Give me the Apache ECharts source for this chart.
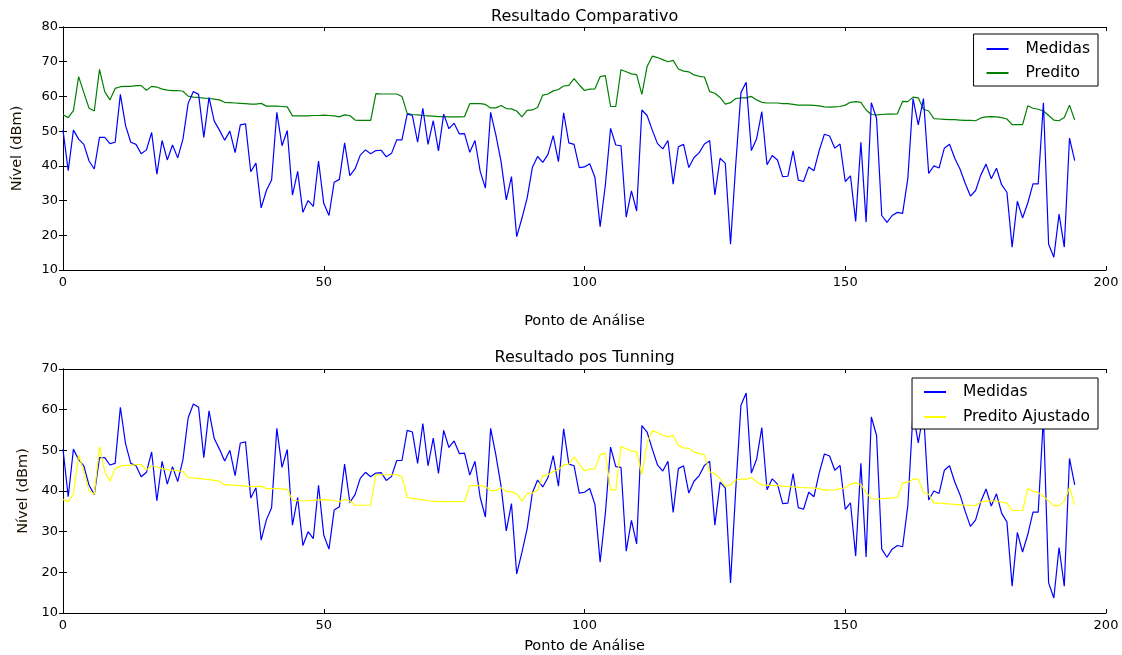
<!DOCTYPE html>
<html>
<head>
<meta charset="utf-8">
<script src="https://cdn.jsdelivr.net/npm/echarts@6/dist/echarts.min.js"></script>
<style>
html,body{margin:0;padding:0;background:#fff;}
#chart{width:1122px;height:655px;}
</style>
</head>
<body>
<div id="chart"></div>
<script>
const xTicks = [0, 50, 100, 150, 200];
const yTicksTop = [10, 20, 30, 40, 50, 60, 70, 80];
const yTicksBottom = [10, 20, 30, 40, 50, 60, 70];

const medidas = [50.3,38.6,50.3,47.7,46.2,41.4,39.1,48.2,48.2,46.4,46.8,60.6,51.6,46.8,46.2,43.5,44.6,49.6,37.6,47.3,41.7,46.0,42.3,47.7,58.0,61.4,60.6,48.2,59.7,52.9,50.3,47.4,50.0,43.8,51.8,52.1,38.3,40.8,27.9,32.9,35.9,55.4,45.8,50.2,31.6,38.4,26.6,30.0,28.3,41.4,29.2,25.7,35.3,36.1,46.6,37.2,39.1,43.1,44.6,43.5,44.4,44.5,42.6,43.6,47.5,47.5,54.9,54.5,46.8,56.6,46.2,53.0,44.3,54.9,50.7,52.3,49.2,49.3,43.9,47.3,38.4,33.6,55.4,48.9,41.2,30.2,36.9,19.6,24.9,30.7,39.5,42.7,41.0,43.3,48.7,41.2,55.3,46.6,46.2,39.5,39.7,40.6,36.7,22.5,34.5,50.8,46.0,45.8,25.2,32.8,27.0,56.1,54.5,50.3,46.4,44.9,47.3,34.7,45.5,46.2,39.5,42.4,43.8,46.3,47.3,31.6,42.2,40.7,17.4,40.3,61.1,64.1,44.4,47.8,55.6,40.3,43.0,41.7,36.9,37.0,44.3,35.9,35.5,39.7,38.6,44.4,49.1,48.6,45.1,46.3,35.5,37.1,24.0,46.8,23.8,58.2,53.7,25.7,23.7,25.7,26.6,26.3,36.4,59.4,51.8,59.4,37.8,40.0,39.4,45.1,46.2,42.2,39.1,35.0,31.3,32.9,37.4,40.5,36.3,39.3,34.5,32.4,16.6,29.8,25.0,29.3,34.8,34.8,58.2,17.4,13.7,26.1,16.6,48.0,41.5];

const predito = [54.7,53.9,55.9,65.7,61.1,56.6,55.8,67.8,61.4,59.0,62.3,62.8,62.9,62.9,63.1,63.1,61.8,62.9,62.7,62.1,61.8,61.7,61.7,61.5,60.1,59.8,59.7,59.5,59.4,59.2,59.0,58.3,58.2,58.1,58.0,57.9,57.8,57.8,58.0,57.2,57.2,57.2,57.1,57.0,54.4,54.4,54.4,54.4,54.5,54.5,54.6,54.5,54.4,54.1,54.7,54.5,53.2,53.1,53.1,53.1,60.8,60.7,60.7,60.7,60.7,60.0,55.1,54.8,54.7,54.5,54.4,54.3,54.2,54.2,54.1,54.1,54.1,54.2,57.9,57.9,57.9,57.7,56.7,56.7,57.4,56.5,56.4,55.8,54.1,56.0,56.1,56.8,60.4,60.7,61.6,62.0,63.0,63.2,65.1,63.3,61.7,62.1,62.2,65.7,66.0,57.1,57.1,67.7,67.1,66.5,66.3,60.6,68.6,71.6,71.2,70.6,70.0,70.4,67.9,67.3,67.1,66.2,65.8,65.6,61.4,60.9,59.7,57.8,58.2,59.4,59.6,59.6,60.0,59.0,58.3,58.1,58.1,58.1,57.9,57.9,57.7,57.5,57.5,57.5,57.4,57.3,57.0,56.9,57.0,57.1,57.5,58.3,58.5,58.3,56.1,54.8,54.7,54.8,54.9,54.9,55.0,58.6,58.5,59.8,59.6,56.3,55.8,53.6,53.5,53.4,53.3,53.3,53.2,53.1,53.1,53.0,53.8,54.1,54.2,54.1,53.9,53.5,51.9,51.9,51.9,57.3,56.6,56.3,55.8,54.5,53.2,53.0,53.9,57.5,53.2];

const preditoAjustado = [37.9,37.4,39.2,48.9,44.8,40.1,39.2,50.9,44.8,42.4,45.5,46.1,46.3,46.3,46.5,46.5,45.2,46.2,45.9,45.5,45.2,45.1,45.0,44.8,43.3,43.2,43.1,42.9,42.8,42.6,42.4,41.5,41.5,41.4,41.3,41.2,41.1,41.1,41.2,40.6,40.6,40.6,40.5,40.4,37.7,37.6,37.6,37.6,37.7,37.8,37.9,37.8,37.6,37.4,37.9,37.6,36.5,36.5,36.5,36.5,44.1,44.0,44.0,44.0,44.0,43.5,38.4,38.2,38.0,37.8,37.6,37.5,37.4,37.4,37.4,37.4,37.4,37.4,41.3,41.3,41.3,41.1,40.1,40.1,40.8,39.9,39.8,39.3,37.5,39.4,39.5,40.2,43.8,44.0,44.8,45.3,46.4,46.6,48.4,46.6,45.0,45.4,45.5,48.9,49.3,40.3,40.3,50.9,50.4,49.8,49.6,44.0,51.8,54.8,54.4,53.7,53.3,53.7,51.2,50.6,50.5,49.6,49.2,48.9,44.7,44.3,43.0,41.2,41.5,42.7,42.9,42.9,43.3,42.2,41.5,41.4,41.4,41.4,41.2,41.1,41.0,40.9,40.8,40.8,40.7,40.6,40.2,40.2,40.3,40.5,40.8,41.7,42.0,41.6,39.6,38.1,38.0,38.1,38.2,38.3,38.4,42.0,42.1,42.9,42.9,39.7,39.2,37.0,37.0,36.9,36.8,36.7,36.6,36.5,36.5,36.4,37.3,37.5,37.6,37.5,37.3,37.0,35.2,35.2,35.2,40.6,39.9,39.6,38.7,37.5,36.4,36.4,37.5,40.9,36.6];

const titles = ['Resultado Comparativo', 'Resultado pos Tunning'];
const xName = 'Ponto de Análise';
const yName = 'Nível (dBm)';

const FONT = 'DejaVu Sans';
const pairs = arr => arr.map((v, i) => [i, v]);

const chart = echarts.init(document.getElementById('chart'), null, {renderer: 'canvas'});

function xAx(gridIndex, pos, showLabel, nameGap) {
  const a = {
    type: 'value', gridIndex, position: pos,
    min: xTicks[0], max: xTicks[xTicks.length - 1], interval: xTicks[1] - xTicks[0],
    axisLine: {show: true, lineStyle: {color: '#000', width: 1}},
    axisTick: {show: true, inside: true, length: 4, lineStyle: {color: '#000'}},
    axisLabel: {show: showLabel, color: '#000', fontFamily: FONT, fontSize: 13, margin: 6},
    splitLine: {show: false}
  };
  if (showLabel) {
    a.name = xName; a.nameLocation = 'middle'; a.nameGap = nameGap;
    a.nameTextStyle = {color: '#000', fontFamily: FONT, fontSize: 14.5};
  }
  return a;
}
function yAx(gridIndex, pos, showLabel, ticks, nameGap) {
  const a = {
    type: 'value', gridIndex, position: pos,
    min: ticks[0], max: ticks[ticks.length - 1], interval: ticks[1] - ticks[0],
    axisLine: {show: true, lineStyle: {color: '#000', width: 1}},
    axisTick: {show: true, inside: true, length: 4, lineStyle: {color: '#000'}},
    axisLabel: {show: showLabel, color: '#000', fontFamily: FONT, fontSize: 13, margin: 5},
    splitLine: {show: false}
  };
  if (showLabel) {
    a.name = yName; a.nameLocation = 'middle'; a.nameGap = nameGap;
    a.nameTextStyle = {color: '#1a1000', fontFamily: FONT, fontSize: 14.5};
  }
  return a;
}

const legendCommon = {
  orient: 'vertical', right: 24,
  backgroundColor: '#fff', borderColor: '#000', borderWidth: 1, borderRadius: 0,
  itemWidth: 22, itemHeight: 14,
  itemStyle: {color: 'rgba(0,0,0,0)', borderColor: 'rgba(0,0,0,0)', borderWidth: 0, opacity: 0},
  textStyle: {color: '#000', fontFamily: FONT, fontSize: 15.5, lineHeight: 14, padding: [0, 0, 0, 12]}
};

chart.setOption({
  animation: false,
  backgroundColor: '#fff',
  title: [
    {text: titles[0], left: 584.6, top: 9, textAlign: 'center', padding: 0,
     textStyle: {color: '#000', fontFamily: FONT, fontSize: 16, fontWeight: 'normal'}},
    {text: titles[1], left: 584.6, top: 350, textAlign: 'center', padding: 0,
     textStyle: {color: '#000', fontFamily: FONT, fontSize: 16, fontWeight: 'normal'}}
  ],
  legend: [
    Object.assign({}, legendCommon, {top: 34, padding: [7, 8, 5, 12], itemGap: 8, data: ['Medidas', 'Predito']}),
    Object.assign({}, legendCommon, {top: 378, padding: [6, 8, 4, 11], itemGap: 9, data: ['Medidas ', 'Predito Ajustado']})
  ],
  grid: [
    {left: 63, right: 16, top: 27, height: 243},
    {left: 63, right: 16, top: 369, height: 244}
  ],
  xAxis: [xAx(0, 'bottom', true, 44), xAx(0, 'top', false), xAx(1, 'bottom', true, 26), xAx(1, 'top', false)],
  yAxis: [yAx(0, 'left', true, yTicksTop, 38), yAx(0, 'right', false, yTicksTop), yAx(1, 'left', true, yTicksBottom, 31), yAx(1, 'right', false, yTicksBottom)],
  series: [
    {name: 'Medidas', type: 'line', xAxisIndex: 0, yAxisIndex: 0, data: pairs(medidas), symbol: 'none',
     lineStyle: {color: '#0000ff', width: 1.2}, itemStyle: {color: '#0000ff'}, z: 3},
    {name: 'Predito', type: 'line', xAxisIndex: 0, yAxisIndex: 0, data: pairs(predito), symbol: 'none',
     lineStyle: {color: '#008000', width: 1.2}, itemStyle: {color: '#008000'}, z: 2},
    {name: 'Medidas ', type: 'line', xAxisIndex: 2, yAxisIndex: 2, data: pairs(medidas), symbol: 'none',
     lineStyle: {color: '#0000ff', width: 1.2}, itemStyle: {color: '#0000ff'}, z: 2},
    {name: 'Predito Ajustado', type: 'line', xAxisIndex: 2, yAxisIndex: 2, data: pairs(preditoAjustado), symbol: 'none',
     lineStyle: {color: '#ffff00', width: 1.2}, itemStyle: {color: '#ffff00'}, z: 3}
  ]
});
</script>
</body>
</html>
